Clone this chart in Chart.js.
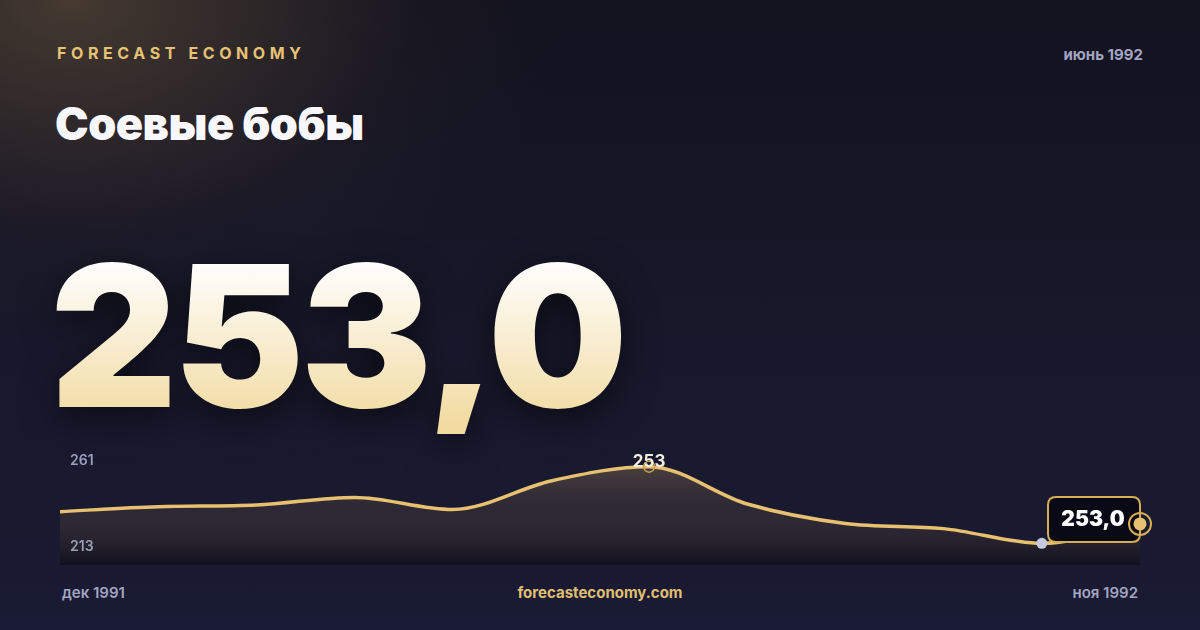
<!DOCTYPE html>
<html lang="ru">
    <head>
        <meta charset="UTF-8" />
        <title>Соевые бобы</title>
        <script src="https://cdn.jsdelivr.net/npm/chart.js@4"></script>
        <style>
            * {
                padding: 0;
                margin: 0;
                box-sizing: border-box;
            }

            body {
                width: 1200px;
                height: 630px;
                overflow: hidden;
                font-family: Inter, "Noto Sans", sans-serif;
            }

            .card {
                position: relative;
                width: 1200px;
                height: 630px;
                background:
                    radial-gradient(ellipse 620px 420px at 6% 0%, rgba(112, 90, 62, 0.55), rgba(60, 48, 40, 0.15) 55%, transparent 80%),
                    linear-gradient(180deg, #12121f 0%, #171729 45%, #1a1b34 100%);
            }

            .brand {
                position: absolute;
                left: 57px;
                top: 43px;
                font-size: 16px;
                font-weight: 700;
                letter-spacing: 4.6px;
                color: #e6c274;
            }

            .asof {
                position: absolute;
                right: 57px;
                top: 45px;
                font-size: 15px;
                font-weight: 700;
                color: #a3a5c2;
            }

            .title {
                position: absolute;
                left: 55px;
                top: 96px;
                font-size: 45px;
                font-weight: 900;
                letter-spacing: -0.5px;
                color: #f8f8fc;
            }

            .big {
                position: absolute;
                left: 50px;
                top: 237px;
                font-size: 197px;
                font-weight: 900;
                letter-spacing: -4px;
                line-height: 1;
                background: linear-gradient(180deg, #fefdfb 15%, #f2dba1 95%);
                -webkit-background-clip: text;
                background-clip: text;
                color: transparent;
                filter: drop-shadow(0 10px 18px rgba(0, 0, 0, 0.55));
            }

            .foot {
                position: absolute;
                top: 583px;
                font-size: 15px;
                font-weight: 600;
                color: #a3a5c2;
            }

            .site {
                left: 0;
                width: 1200px;
                text-align: center;
                color: #e0bf72;
                font-weight: 700;
            }

            .chart-box {
                position: absolute;
                left: 40px;
                top: 425px;
                width: 1130px;
                height: 145px;
            }
        </style>
    </head>
    <body>
        <div class="card">
            <div class="brand">FORECAST ECONOMY</div>
            <div class="asof" id="asof"></div>
            <div class="title">Соевые бобы</div>
            <div class="big" id="big"></div>
            <div class="chart-box"><canvas id="chart"></canvas></div>
            <div class="foot" id="firstMonth" style="left: 62px"></div>
            <div class="foot site">forecasteconomy.com</div>
            <div class="foot" id="lastMonth" style="right: 62px"></div>
        </div>

        <script>
            // monthly values, dec 1991 .. nov 1992
            const months = [
                "дек 1991", "янв 1992", "фев 1992", "мар 1992",
                "апр 1992", "май 1992", "июнь 1992", "июль 1992",
                "авг 1992", "сен 1992", "окт 1992", "ноя 1992",
            ];
            const prices = [
                234.7, 236.7, 237.4, 240.5, 235.6, 247.2,
                253.0, 237.8, 229.9, 227.8, 221.8, 229.7,
            ];
            const yTickLabels = [261, 213];
            const headline = 253.0;
            const asOf = "июнь 1992";

            const fmt = (v) => v.toFixed(1).replace(".", ",");

            document.getElementById("big").textContent = fmt(headline);
            document.getElementById("asof").textContent = asOf;
            document.getElementById("firstMonth").textContent = months[0];
            document.getElementById("lastMonth").textContent =
                months[months.length - 1];

            const GOLD = "#e8c170";

            function roundRect(c, x, y, w, h, r) {
                c.beginPath();
                c.moveTo(x + r, y);
                c.lineTo(x + w - r, y);
                c.quadraticCurveTo(x + w, y, x + w, y + r);
                c.lineTo(x + w, y + h - r);
                c.quadraticCurveTo(x + w, y + h, x + w - r, y + h);
                c.lineTo(x + r, y + h);
                c.quadraticCurveTo(x, y + h, x, y + h - r);
                c.lineTo(x, y + r);
                c.quadraticCurveTo(x, y, x + r, y);
                c.closePath();
            }

            const markers = {
                id: "markers",
                afterDatasetsDraw(chart) {
                    const c = chart.ctx;
                    const area = chart.chartArea;
                    const pts = chart.getDatasetMeta(0).data;
                    const maxI = prices.indexOf(Math.max(...prices));
                    const minI = prices.indexOf(Math.min(...prices));
                    const last = pts[pts.length - 1];

                    c.save();
                    // axis extremes
                    c.font = "600 14px Inter";
                    c.fillStyle = "#9c9ebb";
                    c.textBaseline = "middle";
                    c.textAlign = "left";
                    c.fillText(yTickLabels[0], area.left + 10, area.top + 14);
                    c.fillText(yTickLabels[1], area.left + 10, area.bottom - 18);

                    // peak
                    const pk = pts[maxI];
                    c.beginPath();
                    c.arc(pk.x, pk.y, 5.5, 0, Math.PI * 2);
                    c.strokeStyle = "#c9a24e";
                    c.lineWidth = 1.5;
                    c.stroke();
                    c.font = "700 17px Inter";
                    c.textAlign = "center";
                    c.fillStyle = "#f4eee0";
                    c.fillText(Math.round(prices[maxI]), pk.x, pk.y - 5);

                    // low
                    const lo = pts[minI];
                    c.beginPath();
                    c.arc(lo.x, lo.y, 5.5, 0, Math.PI * 2);
                    c.fillStyle = "#c5c8de";
                    c.fill();

                    // badge
                    const bw = 92, bh = 45;
                    roundRect(c, last.x - bw, last.y - 27, bw, bh, 8);
                    c.fillStyle = "#0a0a16";
                    c.fill();
                    c.strokeStyle = "#d4ad55";
                    c.lineWidth = 2;
                    c.stroke();
                    c.font = "900 21px Inter";
                    c.fillStyle = "#ffffff";
                    c.textAlign = "center";
                    c.fillText(fmt(headline), last.x - bw / 2 - 1, last.y - 4);

                    // last point
                    c.beginPath();
                    c.arc(last.x, last.y, 11, 0, Math.PI * 2);
                    c.strokeStyle = "#d4ad55";
                    c.lineWidth = 2;
                    c.stroke();
                    c.beginPath();
                    c.arc(last.x, last.y, 6.5, 0, Math.PI * 2);
                    c.fillStyle = GOLD;
                    c.fill();
                    c.restore();
                },
            };

            new Chart(document.getElementById("chart"), {
                type: "line",
                data: {
                    labels: months,
                    datasets: [
                        {
                            data: prices,
                            borderColor: GOLD,
                            borderWidth: 3.5,
                            pointRadius: 0,
                            cubicInterpolationMode: "monotone",
                            clip: false,
                            fill: "start",
                            backgroundColor(context) {
                                const area = context.chart.chartArea;
                                if (!area) return "transparent";
                                const g = context.chart.ctx.createLinearGradient(
                                    0, area.top, 0, area.bottom
                                );
                                g.addColorStop(0, "rgba(220, 180, 112, 0.34)");
                                g.addColorStop(0.5, "rgba(140, 110, 78, 0.18)");
                                g.addColorStop(1, "rgba(6, 6, 12, 0.5)");
                                return g;
                            },
                        },
                    ],
                },
                options: {
                    responsive: true,
                    maintainAspectRatio: false,
                    animation: false,
                    layout: {
                        padding: { left: 20, right: 30, top: 22, bottom: 5 },
                    },
                    plugins: {
                        legend: { display: false },
                        tooltip: { enabled: false },
                    },
                    scales: {
                        x: { display: false },
                        y: {
                            display: false,
                            min: yTickLabels[1],
                            max: yTickLabels[0],
                        },
                    },
                },
                plugins: [markers],
            });
        </script>
    </body>
</html>
